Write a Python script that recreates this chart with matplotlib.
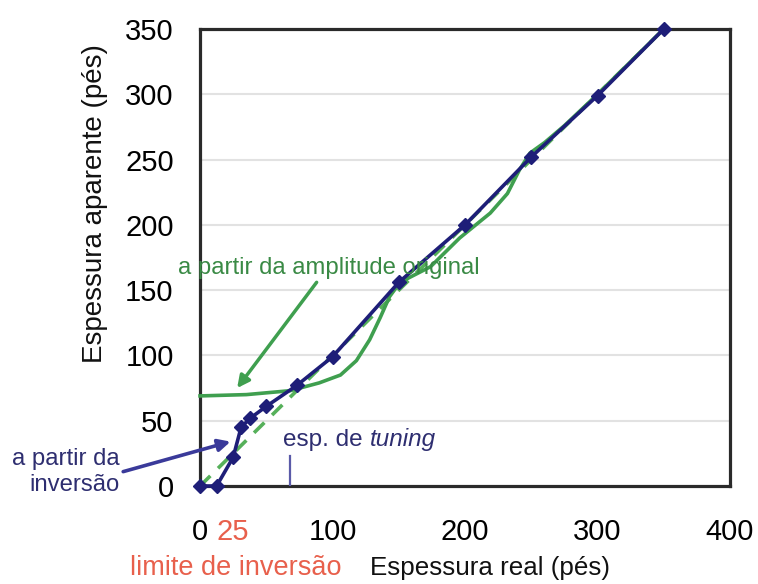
import matplotlib
matplotlib.use("Agg")
import matplotlib.pyplot as plt
from matplotlib.ticker import FixedLocator

plt.rcParams['font.family'] = ['Liberation Sans', 'DejaVu Sans']

# Apparent vs. real thickness (ft)
inv_real = [0, 12.5, 25, 31, 38, 50, 73, 100, 150, 200, 250, 300, 350]
inv_apparent = [0, 0, 22, 45, 52, 61, 77, 99, 156, 200, 252, 299, 350]

amp_real = [0, 35, 68, 90, 106, 118, 128, 136, 143, 151, 174, 196, 219, 232,
            241, 249, 260, 275, 300, 350]
amp_apparent = [69, 70, 73, 79, 85, 96, 112, 129, 145, 156, 168, 190, 209, 224,
                242, 255, 263, 276, 300, 350]

ideal_real = [0, 350]
ideal_apparent = [0, 350]

x_ticks = [0, 25, 100, 200, 300, 400]
x_tick_labels = ['0', '25', '100', '200', '300', '400']
y_ticks = [0, 50, 100, 150, 200, 250, 300, 350]
inversion_limit = 25
tuning_thickness = 68

NAVY = '#1e1e78'
GREEN = '#3f9f4f'
GREEN_DASH = '#56b05a'
GREEN_TEXT = '#3a8a45'
NAVY_TEXT = '#2e2e70'
RED = '#e8604c'

fig = plt.figure(figsize=(7.58, 5.84), dpi=100)
ax = fig.add_axes([0.2639, 0.1678, 0.6992, 0.7825])
ax.set_xlim(0, 400)
ax.set_ylim(0, 350)

# horizontal grid
for yv in y_ticks[1:-1]:
    ax.axhline(yv, color='#e2e2e2', lw=1.5, zorder=0)

ax.plot(ideal_real, ideal_apparent, color=GREEN_DASH, lw=2.6,
        dashes=(4, 3), zorder=2, clip_on=False)
ax.plot(amp_real, amp_apparent, color=GREEN, lw=2.6, zorder=3, clip_on=False)
ax.plot(inv_real, inv_apparent, color=NAVY, lw=2.6, marker='D', ms=7.5,
        zorder=4, clip_on=False)

# tuning thickness marker
ax.plot([tuning_thickness, tuning_thickness], [0, 23], color='#5a5aa8',
        lw=1.6, zorder=3)

for side in ['left', 'bottom', 'top', 'right']:
    ax.spines[side].set_linewidth(2.3)
    ax.spines[side].set_color('#2a2a2a')

ax.xaxis.set_major_locator(FixedLocator(x_ticks))
ax.set_xticklabels(x_tick_labels)
ax.xaxis.set_minor_locator(FixedLocator([inversion_limit]))
ax.tick_params(axis='x', which='major', length=0, pad=23, labelsize=21)
ax.tick_params(axis='x', which='minor', length=21, width=2.5,
               color='#111111', direction='out')
ax.set_yticks(y_ticks)
ax.tick_params(axis='y', length=0, pad=19, labelsize=21)
for lab in ax.get_xticklabels():
    if lab.get_text() == '25':
        lab.set_color(RED)

fig.text(0.125, 0.652, 'Espessura aparente (pés)', fontsize=20,
         rotation=90, ha='center', va='center', color='#111111')
fig.text(0.488, 0.028, 'Espessura real (pés)', fontsize=18.7, ha='left',
         va='center', color='#111111')
fig.text(0.1715, 0.028, 'limite de inversão', fontsize=19.5, ha='left',
         va='center', color=RED)

fig.text(0.2348, 0.541, 'a partir da amplitude original', fontsize=17.2,
         color=GREEN_TEXT, ha='left', va='center')
ax.annotate('', xy=(28, 75), xytext=(88, 156),
            arrowprops=dict(arrowstyle='-|>', color=GREEN, lw=2.5,
                            mutation_scale=18, shrinkA=0, shrinkB=0))

fig.text(0.3734, 0.2466, 'esp. de', fontsize=17.5, color=NAVY_TEXT,
         ha='left', va='center')
fig.text(0.488, 0.2466, 'tuning', fontsize=17.5, color=NAVY_TEXT,
         style='italic', ha='left', va='center')

fig.text(0.158, 0.192, 'a partir da\ninversão', fontsize=17.2,
         color=NAVY_TEXT, ha='right', va='center', linespacing=1.2)
ax.annotate('', xy=(23, 34), xytext=(-58, 11),
            arrowprops=dict(arrowstyle='-|>', color='#3a3a9a', lw=2.6,
                            mutation_scale=18, shrinkA=0, shrinkB=0),
            annotation_clip=False)

fig.savefig('out.png', dpi=100)
